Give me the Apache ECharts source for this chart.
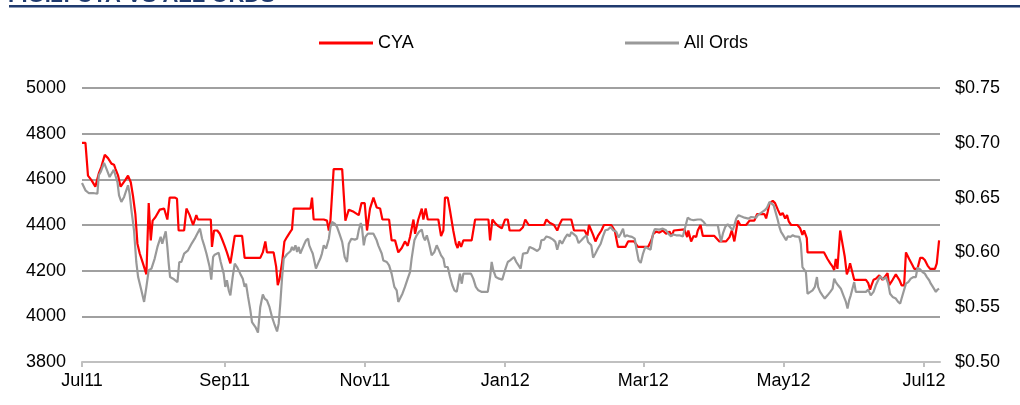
<!DOCTYPE html>
<html>
<head>
<meta charset="utf-8">
<style>
  html, body { margin: 0; padding: 0; background: #fff; }
  #chart { width: 1020px; height: 405px; }
</style>
<script src="https://cdn.jsdelivr.net/npm/echarts@6/dist/echarts.min.js"></script>
</head>
<body>
<div id="chart"></div>
<script>
// days counted from 1 Jul 2011
const tickDays = [0, 62, 123, 184, 244, 305, 366];
const tickLabels = ['Jul11', 'Sep11', 'Nov11', 'Jan12', 'Mar12', 'May12', 'Jul12'];

// CYA share price ($, right axis)
const cyaDays = [0, 1.5, 2.6, 4.1, 5.8, 6.4, 7.3, 8.4, 9.9, 11.3, 12.8, 13.9, 14.6, 15.7, 16.8, 17.8, 18.8, 20.0, 21.2, 22.2, 23.2, 24.1, 25.1, 26.5, 28.0, 29.0, 29.9, 30.7, 31.9, 33.8, 35.7, 36.4, 37.1, 38.1, 40.3, 41.3, 42.0, 44.4, 45.4, 46.8, 48.3, 49.7, 50.4, 56.0, 56.5, 57.4, 58.8, 59.9, 60.9, 62.0, 63.0, 63.8, 64.5, 65.2, 66.4, 69.6, 70.7, 77.5, 78.6, 79.7, 80.4, 83.3, 84.4, 85.1, 85.8, 87.0, 88.0, 89.1, 90.6, 91.3, 92.0, 99.3, 100.0, 100.7, 105.1, 106.5, 107.3, 108.0, 109.4, 113.1, 114.5, 116.0, 118.1, 120.3, 121.5, 122.9, 123.9, 125.2, 126.7, 128.1, 129.6, 130.6, 133.5, 134.6, 136.1, 137.5, 139.0, 140.4, 141.6, 142.6, 144.1, 144.8, 146.2, 147.7, 148.4, 149.4, 150.3, 154.9, 156.1, 157.1, 157.8, 159.0, 160.0, 161.4, 162.5, 163.3, 163.9, 164.8, 165.8, 169.4, 170.9, 176.7, 177.4, 178.4, 179.9, 181.0, 182.5, 183.9, 185.1, 185.9, 190.3, 191.7, 192.7, 194.2, 200.9, 201.9, 203.3, 205.2, 206.6, 207.7, 208.7, 212.7, 213.9, 218.5, 219.7, 220.4, 222.2, 223.2, 224.3, 225.8, 226.9, 230.1, 231.6, 233.0, 236.2, 237.4, 240.0, 241.7, 246.1, 247.5, 248.4, 249.6, 251.0, 252.5, 253.9, 255.4, 256.4, 257.3, 261.9, 263.1, 263.6, 264.8, 265.9, 267.0, 267.7, 268.9, 269.9, 274.9, 277.1, 280.0, 281.5, 282.5, 283.6, 284.4, 285.1, 286.2, 288.7, 290.2, 290.9, 292.3, 293.5, 296.7, 297.4, 298.1, 298.9, 300.3, 301.3, 302.5, 303.6, 304.6, 305.7, 306.5, 307.3, 308.3, 311.0, 312.2, 313.2, 313.9, 315.1, 315.4, 322.6, 324.1, 325.3, 326.3, 327.0, 327.7, 328.4, 329.2, 329.6, 330.6, 331.6, 332.5, 333.2, 333.9, 335.0, 335.7, 340.8, 341.8, 342.6, 343.2, 344.1, 345.1, 346.6, 348.0, 348.7, 350.2, 350.9, 352.4, 353.8, 355.3, 356.3, 357.4, 358.2, 359.6, 361.1, 361.8, 363.2, 364.4, 365.4, 366.4, 367.6, 368.7, 370.8, 371.6, 372.6];
const cyaPrice = [0.700, 0.700, 0.670, 0.666, 0.660, 0.660, 0.672, 0.678, 0.689, 0.686, 0.681, 0.680, 0.676, 0.670, 0.660, 0.663, 0.666, 0.670, 0.664, 0.651, 0.635, 0.608, 0.599, 0.590, 0.580, 0.645, 0.611, 0.629, 0.632, 0.639, 0.640, 0.639, 0.630, 0.650, 0.650, 0.649, 0.620, 0.620, 0.640, 0.634, 0.625, 0.634, 0.630, 0.630, 0.605, 0.620, 0.620, 0.617, 0.612, 0.606, 0.600, 0.600, 0.590, 0.599, 0.615, 0.615, 0.595, 0.595, 0.600, 0.610, 0.600, 0.600, 0.587, 0.570, 0.575, 0.591, 0.610, 0.614, 0.619, 0.621, 0.640, 0.640, 0.650, 0.630, 0.630, 0.629, 0.620, 0.629, 0.676, 0.676, 0.629, 0.639, 0.637, 0.634, 0.645, 0.645, 0.620, 0.640, 0.650, 0.641, 0.640, 0.630, 0.630, 0.611, 0.611, 0.600, 0.604, 0.610, 0.606, 0.614, 0.630, 0.617, 0.630, 0.640, 0.630, 0.640, 0.630, 0.630, 0.615, 0.620, 0.650, 0.650, 0.638, 0.620, 0.608, 0.604, 0.610, 0.605, 0.611, 0.611, 0.630, 0.630, 0.611, 0.630, 0.626, 0.624, 0.622, 0.630, 0.630, 0.620, 0.620, 0.623, 0.630, 0.625, 0.625, 0.630, 0.627, 0.625, 0.620, 0.626, 0.630, 0.630, 0.620, 0.620, 0.615, 0.625, 0.616, 0.610, 0.615, 0.620, 0.625, 0.625, 0.620, 0.605, 0.605, 0.610, 0.610, 0.605, 0.605, 0.611, 0.617, 0.619, 0.618, 0.620, 0.617, 0.619, 0.615, 0.620, 0.621, 0.614, 0.620, 0.610, 0.615, 0.614, 0.620, 0.625, 0.615, 0.615, 0.610, 0.610, 0.614, 0.620, 0.610, 0.620, 0.629, 0.625, 0.625, 0.629, 0.628, 0.629, 0.635, 0.635, 0.631, 0.637, 0.645, 0.647, 0.645, 0.639, 0.634, 0.636, 0.631, 0.634, 0.628, 0.625, 0.625, 0.622, 0.616, 0.620, 0.613, 0.600, 0.600, 0.594, 0.590, 0.587, 0.584, 0.594, 0.585, 0.584, 0.620, 0.608, 0.596, 0.580, 0.584, 0.590, 0.581, 0.575, 0.575, 0.572, 0.566, 0.570, 0.575, 0.576, 0.579, 0.575, 0.575, 0.581, 0.570, 0.575, 0.580, 0.575, 0.570, 0.570, 0.600, 0.594, 0.588, 0.585, 0.585, 0.595, 0.595, 0.593, 0.588, 0.585, 0.585, 0.590, 0.611];

// All Ordinaries index (left axis)
const ordsDays = [0, 1.5, 2.9, 4.8, 6.7, 7.3, 8.1, 9.6, 10.6, 12.0, 12.8, 13.8, 14.5, 15.4, 16.1, 17.1, 18.3, 20.0, 20.7, 21.5, 22.6, 23.6, 24.4, 25.8, 27.0, 28.0, 29.0, 30.2, 31.6, 32.8, 34.2, 34.9, 35.7, 36.4, 37.1, 37.7, 38.3, 39.6, 41.5, 42.3, 43.2, 44.4, 44.9, 46.1, 47.8, 49.0, 50.1, 51.3, 52.2, 53.3, 54.1, 55.5, 56.2, 57.0, 57.7, 59.4, 60.3, 60.9, 61.6, 62.3, 63.0, 63.8, 64.5, 65.5, 66.4, 67.4, 68.8, 69.9, 70.7, 71.3, 72.2, 73.2, 73.9, 75.4, 76.5, 77.5, 78.6, 79.4, 80.4, 81.5, 82.6, 83.8, 84.8, 85.5, 86.2, 87.0, 87.7, 89.1, 90.6, 91.3, 92.0, 92.8, 93.5, 94.2, 94.9, 96.4, 97.4, 98.3, 98.8, 99.7, 100.3, 100.9, 101.7, 102.6, 103.6, 104.3, 105.1, 106.1, 107.3, 108.0, 108.7, 109.9, 110.9, 111.9, 113.1, 114.2, 115.2, 116.0, 117.1, 118.6, 119.6, 120.3, 121.2, 121.7, 122.5, 123.2, 124.3, 125.2, 126.7, 128.1, 128.8, 129.6, 130.3, 131.0, 132.5, 133.5, 134.6, 135.8, 136.8, 137.5, 138.3, 139.3, 140.4, 141.6, 142.6, 143.3, 144.5, 145.5, 146.5, 147.7, 148.4, 149.1, 149.9, 150.9, 152.0, 153.2, 154.2, 155.2, 156.1, 157.1, 157.8, 159.0, 160.0, 161.0, 161.9, 162.9, 164.3, 165.1, 165.8, 169.1, 170.1, 171.2, 172.3, 173.8, 176.4, 177.4, 178.1, 178.8, 179.9, 181.3, 182.7, 183.9, 185.1, 186.1, 187.8, 188.8, 189.8, 190.7, 191.7, 192.4, 193.6, 194.6, 196.1, 197.9, 199.0, 199.7, 200.9, 201.9, 203.3, 204.8, 205.8, 206.6, 207.7, 208.7, 209.8, 211.0, 212.0, 212.7, 213.9, 214.9, 215.9, 217.1, 218.2, 219.3, 220.0, 220.7, 221.4, 222.2, 223.2, 224.3, 225.5, 226.5, 227.5, 228.7, 229.8, 230.9, 232.3, 233.3, 234.2, 235.2, 235.9, 236.8, 238.1, 239.1, 240.3, 241.0, 242.0, 242.9, 243.9, 244.9, 246.1, 247.2, 248.2, 249.0, 251.0, 252.5, 253.9, 254.9, 256.1, 256.8, 258.3, 259.7, 261.2, 261.9, 263.3, 264.5, 265.9, 267.7, 269.1, 270.3, 271.3, 276.4, 277.1, 277.8, 278.6, 279.6, 280.7, 281.9, 282.9, 283.6, 284.4, 285.4, 286.5, 288.0, 289.7, 290.9, 291.6, 293.1, 293.8, 295.2, 296.7, 297.8, 298.9, 299.6, 300.7, 301.7, 302.5, 303.2, 303.9, 304.6, 305.4, 306.1, 306.8, 308.0, 309.0, 310.0, 310.8, 311.8, 312.5, 313.2, 313.9, 314.7, 315.4, 316.6, 317.6, 318.6, 319.5, 320.0, 320.9, 321.9, 322.9, 324.1, 325.3, 326.3, 327.0, 327.7, 328.7, 329.9, 331.0, 332.1, 332.8, 333.5, 334.2, 335.0, 335.7, 336.4, 337.9, 340.8, 341.8, 342.9, 344.1, 345.1, 346.1, 347.0, 347.6, 348.4, 349.5, 350.5, 351.3, 352.4, 353.8, 354.8, 355.7, 356.3, 357.1, 358.2, 359.2, 360.3, 361.5, 362.5, 363.2, 364.4, 365.4, 366.4, 367.3, 368.3, 369.0, 369.7, 370.5, 371.2, 371.9, 372.6];
const ordsIndex = [4584, 4552, 4540, 4540, 4537, 4618, 4632, 4672, 4647, 4610, 4607, 4642, 4618, 4589, 4530, 4501, 4523, 4574, 4537, 4464, 4377, 4238, 4172, 4114, 4063, 4129, 4202, 4209, 4253, 4304, 4348, 4318, 4348, 4372, 4304, 4231, 4172, 4165, 4150, 4238, 4238, 4275, 4267, 4289, 4321, 4340, 4362, 4384, 4340, 4304, 4275, 4216, 4161, 4260, 4270, 4278, 4238, 4231, 4187, 4129, 4158, 4114, 4092, 4172, 4231, 4216, 4187, 4165, 4129, 4143, 4085, 4026, 3975, 3953, 3929, 4041, 4096, 4078, 4070, 4041, 3997, 3961, 3934, 3968, 4056, 4172, 4253, 4272, 4285, 4304, 4289, 4311, 4282, 4304, 4275, 4311, 4333, 4340, 4311, 4289, 4275, 4248, 4209, 4231, 4253, 4275, 4311, 4297, 4340, 4391, 4413, 4406, 4391, 4362, 4326, 4260, 4238, 4318, 4340, 4336, 4340, 4377, 4409, 4391, 4311, 4348, 4362, 4362, 4362, 4333, 4311, 4318, 4275, 4245, 4238, 4223, 4187, 4129, 4114, 4063, 4070, 4099, 4129, 4165, 4194, 4253, 4333, 4355, 4370, 4380, 4348, 4333, 4355, 4318, 4267, 4282, 4311, 4289, 4267, 4253, 4216, 4216, 4172, 4136, 4114, 4107, 4187, 4143, 4187, 4187, 4165, 4129, 4114, 4107, 4107, 4172, 4238, 4202, 4172, 4165, 4161, 4202, 4238, 4245, 4260, 4238, 4223, 4209, 4275, 4282, 4278, 4304, 4297, 4286, 4297, 4333, 4336, 4350, 4345, 4336, 4326, 4292, 4333, 4318, 4340, 4359, 4350, 4369, 4359, 4350, 4321, 4333, 4345, 4355, 4326, 4326, 4311, 4257, 4275, 4297, 4318, 4350, 4377, 4380, 4391, 4377, 4370, 4345, 4362, 4384, 4348, 4355, 4350, 4348, 4340, 4297, 4245, 4234, 4275, 4304, 4297, 4292, 4360, 4382, 4380, 4384, 4377, 4362, 4350, 4359, 4355, 4355, 4350, 4355, 4432, 4424, 4421, 4424, 4424, 4413, 4399, 4399, 4362, 4326, 4362, 4391, 4403, 4389, 4377, 4399, 4428, 4443, 4438, 4432, 4428, 4435, 4438, 4432, 4443, 4453, 4464, 4476, 4501, 4505, 4486, 4450, 4421, 4391, 4370, 4359, 4365, 4333, 4350, 4348, 4355, 4350, 4355, 4348, 4318, 4216, 4209, 4194, 4099, 4107, 4114, 4129, 4172, 4129, 4107, 4092, 4078, 4092, 4107, 4121, 4165, 4150, 4136, 4121, 4092, 4063, 4034, 4070, 4092, 4092, 4150, 4107, 4107, 4107, 4117, 4092, 4107, 4136, 4158, 4175, 4180, 4161, 4172, 4143, 4099, 4085, 4078, 4063, 4056, 4078, 4085, 4143, 4150, 4165, 4172, 4172, 4213, 4205, 4194, 4187, 4172, 4158, 4143, 4132, 4132, 4107, 4117, 4121];

const font = "'Liberation Sans', Arial, sans-serif";

const zip = (xs, ys) => xs.map((x, i) => [x, ys[i]]);

const chart = echarts.init(document.getElementById('chart'), null, {renderer: 'canvas'});

chart.setOption({
    animation: false,
    backgroundColor: '#fff',
    textStyle: {fontFamily: font},
    graphic: [
        {
            // title sits mostly above the crop, only its lower edge shows
            type: 'text', x: 8, y: -15, z: 1,
            style: {
                text: 'FIG.2: CYA VS ALL ORDS', fontSize: 22, fontWeight: 'bold',
                fontFamily: font, fill: '#1f3a6e', verticalAlign: 'top'
            }
        },
        {
            type: 'rect', z: 2, shape: {x: 9, y: 5, width: 1011, height: 2.5},
            style: {fill: '#1f3a6e'}
        }
    ],
    legend: [
        {
            data: ['CYA'], left: 314, top: 29, icon: 'rect',
            itemWidth: 54, itemHeight: 3, itemGap: 5,
            textStyle: {fontSize: 18, color: '#000', fontFamily: font}
        },
        {
            data: ['All Ords'], left: 620, top: 29, icon: 'rect',
            itemWidth: 54, itemHeight: 3, itemGap: 5,
            textStyle: {fontSize: 18, color: '#000', fontFamily: font}
        }
    ],
    grid: {left: 82, right: 80, top: 88, bottom: 43, containLabel: false},
    xAxis: {
        type: 'value', min: 0, max: 373,
        axisLine: {lineStyle: {color: '#c0c0c0', width: 2}},
        axisTick: {customValues: tickDays, length: 5, lineStyle: {color: '#c0c0c0', width: 2}},
        axisLabel: {
            customValues: tickDays,
            formatter: v => tickLabels[tickDays.indexOf(v)] || '',
            fontSize: 18, color: '#000', margin: 10, fontFamily: font
        },
        splitLine: {show: false}
    },
    yAxis: [
        {
            type: 'value', min: 3800, max: 5000, interval: 200,
            axisLine: {show: false}, axisTick: {show: false},
            axisLabel: {
                fontSize: 18, color: '#000', margin: 16, fontFamily: font,
                formatter: v => String(v)
            },
            splitLine: {lineStyle: {color: '#a0a0a0', width: 2}}
        },
        {
            type: 'value', min: 0.5, max: 0.75, interval: 0.05,
            axisLine: {show: false}, axisTick: {show: false},
            axisLabel: {
                fontSize: 18, color: '#000', margin: 15, fontFamily: font,
                formatter: v => '$' + v.toFixed(2)
            },
            splitLine: {show: false}
        }
    ],
    series: [
        {
            name: 'CYA', type: 'line', yAxisIndex: 1,
            data: zip(cyaDays, cyaPrice),
            symbol: 'none', color: '#ff0000',
            lineStyle: {width: 2.2, color: '#ff0000'}
        },
        {
            name: 'All Ords', type: 'line', yAxisIndex: 0,
            data: zip(ordsDays, ordsIndex),
            symbol: 'none', color: '#999999',
            lineStyle: {width: 2.2, color: '#999999'}
        }
    ]
});
</script>
</body>
</html>
